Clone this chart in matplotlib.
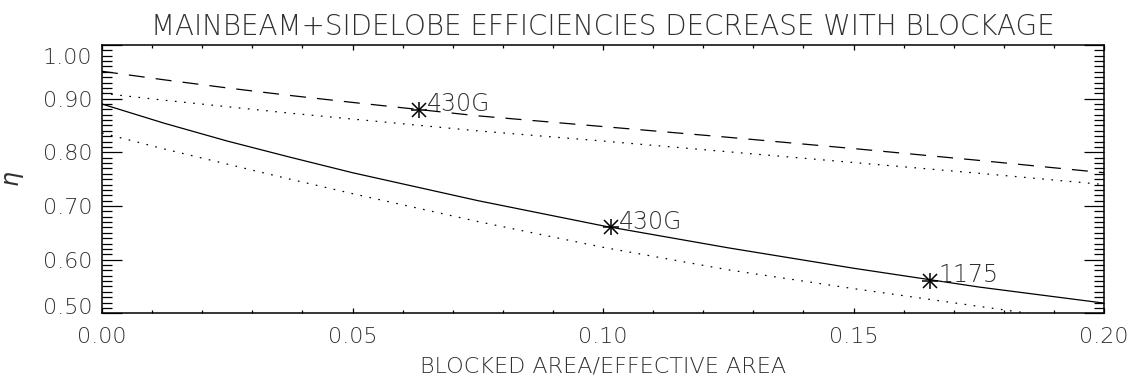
import matplotlib
matplotlib.use("Agg")
import matplotlib.pyplot as plt
from matplotlib.ticker import MultipleLocator, FuncFormatter

plt.rcParams["lines.scale_dashes"] = False
plt.rcParams["font.family"] = ["DejaVu Sans"]
plt.rcParams["font.weight"] = "light"
plt.rcParams["axes.titleweight"] = "light"
plt.rcParams["axes.labelweight"] = "light"
plt.rcParams["mathtext.fontset"] = "dejavusans"

TEXT = "#303030"

# Blocked fraction of the aperture
blockage = [0.0, 0.0125, 0.025, 0.0375, 0.05, 0.075, 0.1, 0.125, 0.15, 0.175, 0.2]

# Efficiency curves versus blockage
eta_total = [0.951, 0.935, 0.920, 0.906, 0.893, 0.868, 0.848, 0.828, 0.807, 0.785, 0.762]
eta_total_low = [0.910, 0.897, 0.885, 0.873, 0.862, 0.840, 0.821, 0.801, 0.781, 0.761, 0.740]
eta_mainbeam = [0.890, 0.854, 0.821, 0.791, 0.762, 0.710, 0.663, 0.622, 0.584, 0.549, 0.519]
eta_mainbeam_low = [0.836, 0.806, 0.778, 0.750, 0.723, 0.671, 0.623, 0.581, 0.546, 0.513, 0.480]

# Individual receivers
rx_blockage = [0.0632, 0.1015, 0.1653]
rx_eta = [0.879, 0.660, 0.560]
rx_names = ["430G", "430G", "1175"]

Y_MIN, Y_MAX = 0.5, 1.0

fig = plt.figure(figsize=(11.38, 3.84), dpi=100)
ax = fig.add_axes([102 / 1138, 1 - 313.3 / 384, (1104 - 102) / 1138, (313.3 - 45) / 384])

lw = 0.9
ax.plot(blockage, eta_total, color="black", lw=lw, linestyle=(0, (11.5, 8)))
ax.plot(blockage, eta_total_low, color="black", lw=lw, linestyle=(0, (1.2, 5.4)))
ax.plot(blockage, eta_mainbeam, color="black", lw=lw, linestyle="-")
ax.plot(blockage, eta_mainbeam_low, color="black", lw=lw, linestyle=(0, (1.2, 5.4)))

ax.plot(rx_blockage, rx_eta, linestyle="none", marker="+", ms=11, mew=1.1, color="black")
ax.plot(rx_blockage, rx_eta, linestyle="none", marker="x", ms=10, mew=1.1, color="black")
for bx, ey, name in zip(rx_blockage, rx_eta, rx_names):
    ax.annotate(name, (bx, ey), xytext=(6, -1), textcoords="offset points",
                ha="left", va="baseline", fontsize=17, color=TEXT)

ax.set_xlim(0.0, 0.2)
ax.set_ylim(Y_MIN, Y_MAX)
ax.xaxis.set_major_locator(MultipleLocator(0.05))
ax.xaxis.set_minor_locator(MultipleLocator(0.01))
ax.yaxis.set_major_locator(MultipleLocator(0.1))
ax.yaxis.set_minor_locator(MultipleLocator(0.01))
ax.xaxis.set_major_formatter(FuncFormatter(lambda v, p: f"{v:.2f}"))


def inner_y_label(v, pos):
    # the two end labels are drawn separately, tucked inside the frame height
    if abs(v - Y_MIN) < 1e-6 or abs(v - Y_MAX) < 1e-6:
        return ""
    return f"{v:.2f}"


ax.yaxis.set_major_formatter(FuncFormatter(inner_y_label))

for s in ax.spines.values():
    s.set_linewidth(1.1)
    s.set_color("black")

ax.tick_params(axis="x", which="major", direction="in", length=3.9, width=0.9,
               top=True, bottom=True, labelsize=16, pad=10, colors="black", labelcolor=TEXT)
ax.tick_params(axis="x", which="minor", direction="in", length=1.9, width=0.9, top=True, bottom=True)
ax.tick_params(axis="y", which="major", direction="in", length=14.4, width=0.9,
               left=True, right=True, labelsize=16, pad=7, colors="black", labelcolor=TEXT)
ax.tick_params(axis="y", which="minor", direction="in", length=7.2, width=0.9, left=True, right=True)

ytrans = ax.get_yaxis_transform()
ax.annotate(f"{Y_MAX:.2f}", (0, Y_MAX), xycoords=ytrans, xytext=(-7, -2.5),
            textcoords="offset points", ha="right", va="top", fontsize=16, color=TEXT)
ax.annotate(f"{Y_MIN:.2f}", (0, Y_MIN), xycoords=ytrans, xytext=(-7, -3.5),
            textcoords="offset points", ha="right", va="bottom", fontsize=16, color=TEXT)

ax.set_title("MAINBEAM+SIDELOBE EFFICIENCIES DECREASE WITH BLOCKAGE",
             fontsize=20, pad=7, color=TEXT)
ax.set_xlabel("BLOCKED AREA/EFFECTIVE AREA", fontsize=16, labelpad=7, color=TEXT)
ax.set_ylabel(r"$\eta$", fontsize=17, labelpad=12, color=TEXT)

fig.savefig("out.png", dpi=100)
